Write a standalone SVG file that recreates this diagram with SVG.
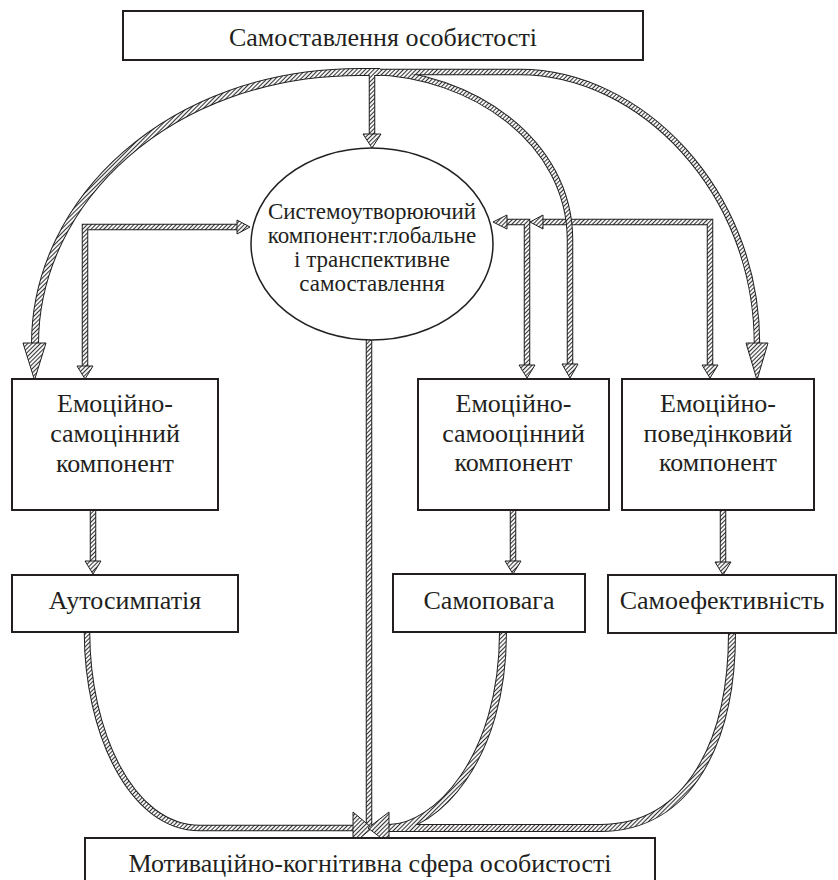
<svg xmlns="http://www.w3.org/2000/svg" xmlns:xlink="http://www.w3.org/1999/xlink" width="838" height="880" viewBox="0 0 838 880">
<style>
  .box { fill: #fff; stroke: #231f20; stroke-width: 2; }
  .ell { fill: #fff; stroke: #231f20; stroke-width: 1.5; }
  text { font-family: "Liberation Serif", serif; fill: #231f20; text-anchor: middle; }
  .t26 { font-size: 26px; }
  .t23 { font-size: 23px; }
  .o8 { fill: none; stroke: #231f20; stroke-width: 8; }
  .f8 { fill: none; stroke: url(#hatch); stroke-width: 6; }
  .o6 { fill: none; stroke: #231f20; stroke-width: 6.5; }
  .f6 { fill: none; stroke: url(#hatch); stroke-width: 4.5; }
  .ah { fill: url(#hatch); stroke: #231f20; stroke-width: 1; stroke-linejoin: miter; }
</style>
<defs>
  <pattern id="hatch" patternUnits="userSpaceOnUse" width="3" height="3" patternTransform="rotate(45)">
    <rect width="3" height="3" fill="#fff"/>
    <line x1="1.5" y1="0" x2="1.5" y2="3" stroke="#333" stroke-width="1.1"/>
  </pattern>
  <path id="pLeftArc" d="M 380 72 L 360 72 C 170 72 35 200 35 344"/>
  <path id="pDown" d="M 372 72 L 372 135"/>
  <path id="pOuterArc" d="M 372 72 L 520 72 C 640 72 757 190 757 344"/>
  <path id="pInnerArc" d="M 372 72 C 470 74 570 140 570 240 L 570 365"/>
  <path id="pBiLeft" d="M 237 227 L 85 227 L 85 367"/>
  <path id="pBiA" d="M 507 222 L 527 222 L 527 366"/>
  <path id="pBiB" d="M 543 222 L 710 222 L 710 366"/>
  <path id="pA1" d="M 93 510 L 93 562"/>
  <path id="pA2" d="M 513 510 L 513 562"/>
  <path id="pA3" d="M 723 510 L 723 563"/>
  <path id="pCenter" d="M 369 340 L 369 828"/>
  <path id="pBL" d="M 87 632 C 87 730 130 828 200 828 L 354 828"/>
  <path id="pBM" d="M 503 632 C 503 760 435 828 389 828"/>
  <path id="pBR" d="M 732 633 C 732 740 690 828 600 828 L 388 828"/>
</defs>

<g id="connectors">
  <use xlink:href="#pBiB" class="o6"/><use xlink:href="#pBiB" class="f6"/>
  <use xlink:href="#pBiA" class="o6"/><use xlink:href="#pBiA" class="f6"/>
  <use xlink:href="#pBiLeft" class="o6"/><use xlink:href="#pBiLeft" class="f6"/>
  <use xlink:href="#pLeftArc" class="o8"/>
  <use xlink:href="#pOuterArc" class="o6"/>
  <use xlink:href="#pInnerArc" class="o6"/>
  <use xlink:href="#pDown" class="o6"/>
  <use xlink:href="#pLeftArc" class="f8"/>
  <use xlink:href="#pOuterArc" class="f6"/>
  <use xlink:href="#pInnerArc" class="f6"/>
  <use xlink:href="#pDown" class="f6"/>
  <use xlink:href="#pA1" class="o6"/><use xlink:href="#pA1" class="f6"/>
  <use xlink:href="#pA2" class="o6"/><use xlink:href="#pA2" class="f6"/>
  <use xlink:href="#pA3" class="o6"/><use xlink:href="#pA3" class="f6"/>
  <use xlink:href="#pCenter" class="o6"/>
  <use xlink:href="#pBL" class="o6"/>
  <use xlink:href="#pBM" class="o8"/>
  <use xlink:href="#pBR" class="o8"/>
  <use xlink:href="#pCenter" class="f6"/>
  <use xlink:href="#pBL" class="f6"/>
  <use xlink:href="#pBM" class="f8"/>
  <use xlink:href="#pBR" class="f8"/>
  <polygon class="ah" points="23,343 46,343 34.5,380"/>
  <polygon class="ah" points="746,343 768,343 757,380"/>
  <polygon class="ah" points="363,134 381,134 372,148"/>
  <polygon class="ah" points="562,364 578,364 570,378"/>
  <polygon class="ah" points="237,220 237,234 250,227"/>
  <polygon class="ah" points="77,366 93,366 85,379"/>
  <polygon class="ah" points="507,215 507,229 493,222"/>
  <polygon class="ah" points="519,365 535,365 527,378"/>
  <polygon class="ah" points="543,215 543,229 530,222"/>
  <polygon class="ah" points="702,365 718,365 710,378"/>
  <polygon class="ah" points="85,561 101,561 93,574"/>
  <polygon class="ah" points="505,561 521,561 513,574"/>
  <polygon class="ah" points="715,562 731,562 723,575"/>
  <polygon class="ah" points="353,812 353,844 372,828"/>
  <polygon class="ah" points="389,812 389,844 368,828"/>
</g>

<g id="n-title">
  <rect class="box" x="123" y="11" width="520" height="49"/>
  <text class="t26" x="383" y="46">Самоставлення особистості</text>
</g>
<g id="n-system">
  <ellipse class="ell" cx="372" cy="244" rx="121" ry="96"/>
  <text class="t23" x="372" y="219">Системоутворюючий</text>
  <text class="t23" x="372" y="243">компонент:глобальне</text>
  <text class="t23" x="372" y="267">і транспективне</text>
  <text class="t23" x="372" y="291">самоставлення</text>
</g>
<g id="n-self-value">
  <rect class="box" x="12" y="379" width="206" height="131"/>
  <text class="t26" x="115" y="412">Емоційно-</text>
  <text class="t26" x="115" y="442">самоцінний</text>
  <text class="t26" x="115" y="472">компонент</text>
</g>
<g id="n-self-esteem">
  <rect class="box" x="418" y="379" width="191" height="131"/>
  <text class="t26" x="513.5" y="412">Емоційно-</text>
  <text class="t26" x="513.5" y="442">самооцінний</text>
  <text class="t26" x="513.5" y="471">компонент</text>
</g>
<g id="n-behavior">
  <rect class="box" x="622" y="379" width="192" height="131"/>
  <text class="t26" x="718" y="412">Емоційно-</text>
  <text class="t26" x="718" y="442">поведінковий</text>
  <text class="t26" x="718" y="471">компонент</text>
</g>
<g id="n-autosympathy">
  <rect class="box" x="12" y="575" width="226" height="57"/>
  <text class="t26" x="125" y="609">Аутосимпатія</text>
</g>
<g id="n-selfrespect">
  <rect class="box" x="393" y="574" width="192" height="58"/>
  <text class="t26" x="489" y="609">Самоповага</text>
</g>
<g id="n-selfefficacy">
  <rect class="box" x="608" y="575" width="228" height="58"/>
  <text class="t26" x="722" y="609">Самоефективність</text>
</g>
<g id="n-motivation">
  <rect class="box" x="85" y="838" width="570" height="50"/>
  <text class="t26" x="370" y="872">Мотиваційно-когнітивна сфера особистості</text>
</g>
</svg>
